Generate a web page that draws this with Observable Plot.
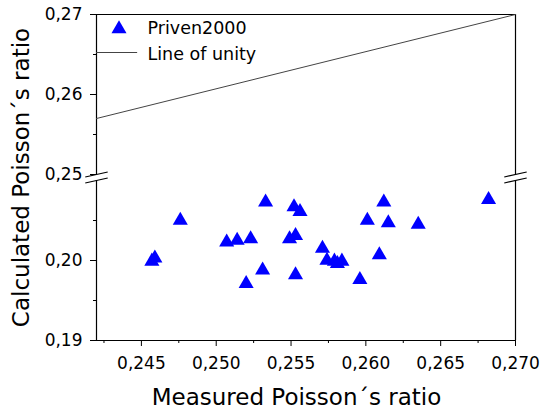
<!DOCTYPE html>
<html>
<head>
<meta charset="utf-8">
<script src="https://cdn.jsdelivr.net/npm/d3@7"></script>
<script src="https://cdn.jsdelivr.net/npm/@observablehq/plot@0.6"></script>
<style>
  html, body { margin: 0; padding: 0; background: #fff; }
</style>
</head>
<body>
<div id="chart"></div>
<script>
// ---- data ----
const seriesName = "Priven2000";
const lineName = "Line of unity";
const xLabel = "Measured Poisson´s ratio";
const yLabel = "Calculated Poisson´s ratio";

const measured = [
  0.2457, 0.2459, 0.2476, 0.2507, 0.2514, 0.2523, 0.2520, 0.2531, 0.2533,
  0.2552, 0.2556, 0.2549, 0.2553, 0.2553, 0.2571, 0.2574, 0.2579, 0.2581,
  0.2584, 0.2596, 0.2601, 0.2609, 0.2612, 0.2615, 0.2635, 0.2682
];
const calculated = [
  0.1999, 0.2003, 0.2050, 0.2023, 0.2025, 0.2027, 0.1971, 0.1988, 0.2073,
  0.2067, 0.2061, 0.2027, 0.2031, 0.1982, 0.2015, 0.2000, 0.1999, 0.1996,
  0.1999, 0.1976, 0.2050, 0.2007, 0.2073, 0.2047, 0.2045, 0.2076
];

const unityX = [0.242, 0.270];
const unityY = [0.257, 0.270];

const xTicks = [0.245, 0.250, 0.255, 0.260, 0.265, 0.270];
const xMinorTicks = [0.2425, 0.2475, 0.2525, 0.2575, 0.2625, 0.2675];
const yTicks = [0.19, 0.20, 0.25, 0.26, 0.27];
const yMinorTicks = [0.195, 0.205, 0.255, 0.265];

// ---- scale layout ----
const X0 = 0.242, X1 = 0.270;
const yDomain = [0.19, 0.21, 0.25, 0.27];       // broken axis: lower and upper segment
const yRange = [340, 180, 174, 14];

const points = measured.map((x, i) => ({x, y: calculated[i]}));
const unity = unityX.map((x, i) => ({x, y: unityY[i]}));

const fmt2 = d => d.toFixed(2).replace(".", ",");
const fmt3 = d => d.toFixed(3).replace(".", ",");

// break marks (short slanted double strokes on both vertical frame edges)
const bw = 0.00075;
const breaks = [];
for (const e of [X0, X1]) {
  breaks.push({x1: e - bw, x2: e + bw, y1: 0.23333, y2: 0.2503125});
  breaks.push({x1: e - bw, x2: e + bw, y1: 0.2096875, y2: 0.226667});
}

const chart = Plot.plot({
  width: 542,
  height: 413,
  marginLeft: 96,
  marginRight: 27,
  marginTop: 14,
  marginBottom: 73,
  style: {fontFamily: "'DejaVu Sans', sans-serif", background: "white", color: "black"},
  x: {domain: [X0, X1]},
  y: {type: "linear", domain: yDomain, range: yRange},
  marks: [
    // frame
    Plot.ruleY([0.27, 0.19], {x1: X0, x2: X1, stroke: "black", strokeWidth: 1.2}),
    Plot.ruleX([X0, X1], {y1: 0.19, y2: 0.21, stroke: "black", strokeWidth: 1.2}),
    Plot.ruleX([X0, X1], {y1: 0.25, y2: 0.27, stroke: "black", strokeWidth: 1.2}),
    Plot.link(breaks, {x1: "x1", y1: "y1", x2: "x2", y2: "y2", stroke: "black", strokeWidth: 1.2}),

    // axes
    Plot.axisX({ticks: xTicks, tickSize: 6, tickPadding: 10, tickFormat: fmt3, fontSize: 17, label: null}),
    Plot.axisX({ticks: xMinorTicks, tickSize: 3, tickFormat: null, text: null, label: null}),
    Plot.axisY({ticks: yTicks, tickSize: 6, tickPadding: 8, tickFormat: fmt2, fontSize: 17, label: null}),
    Plot.axisY({ticks: yMinorTicks, tickSize: 3, tickFormat: null, text: null, label: null}),

    // line of unity
    Plot.line(unity, {x: "x", y: "y", stroke: "#444", strokeWidth: 1}),

    // data
    Plot.dot(points, {x: "x", y: "y", symbol: "triangle", r: 5.6, fill: "#0000ff", stroke: "none"}),

    // legend
    Plot.dot([seriesName], {frameAnchor: "top-left", dx: 22.5, dy: 14.5, symbol: "triangle", r: 5.6, fill: "#0000ff", stroke: "none"}),
    Plot.text([seriesName], {text: d => d, frameAnchor: "top-left", dx: 51, dy: 14, textAnchor: "start", lineAnchor: "middle", fontSize: 17.5, fill: "black"}),
    Plot.ruleY([0.26525], {x1: X0, x2: 0.24475, stroke: "#444", strokeWidth: 1}),
    Plot.text([lineName], {text: d => d, frameAnchor: "top-left", dx: 51, dy: 40, textAnchor: "start", lineAnchor: "middle", fontSize: 17.5, fill: "black"}),

    // axis titles
    Plot.text([xLabel], {text: d => d, frameAnchor: "bottom", dx: -9.5, dy: 64, textAnchor: "middle", lineAnchor: "bottom", fontSize: 23, fill: "black"}),
    Plot.text([yLabel], {text: d => d, frameAnchor: "left", dx: -68, rotate: -90, textAnchor: "middle", lineAnchor: "bottom", fontSize: 23, fill: "black"})
  ]
});

document.getElementById("chart").appendChild(chart);
</script>
</body>
</html>
